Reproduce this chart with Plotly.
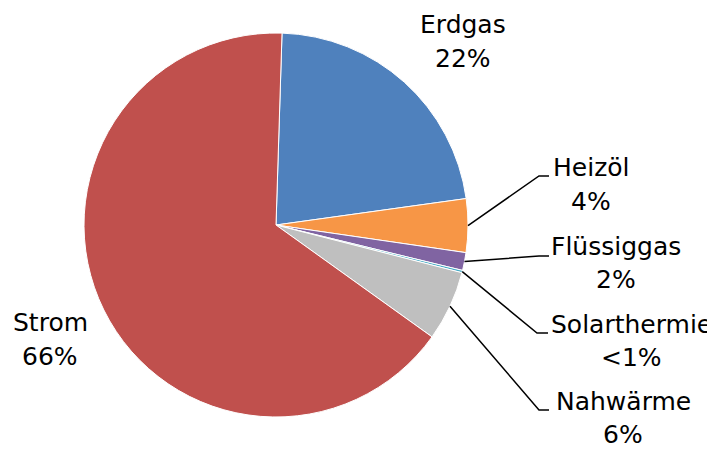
import plotly.graph_objects as go
import math

# ---- data ----
categories = ["Erdgas", "Heizöl", "Flüssiggas", "Solarthermie", "Nahwärme", "Strom"]
values = [22.3, 4.5, 1.5, 0.2, 5.9, 65.6]
pct_labels = ["22%", "4%", "2%", "<1%", "6%", "66%"]
colors = ["#4F81BD", "#F79646", "#8064A2", "#4BACC6", "#BFBFBF", "#C0504D"]

# ---- layout constants ----
OFF = 8                      # page body margin of the html page
W, H = 715 - OFF, 449 - OFF  # figure size
CX, CY, R = 276 - OFF, 225 - OFF, 192
ROTATION = 1.8
FONT = "DejaVu Sans"
FS = 25

# label placement (center x, baseline of name line, baseline of pct line) in page pixels
label_pos = {
    "Erdgas": (463, 33, 67),
    "Heizöl": (591, 176, 210),
    "Flüssiggas": (616, 255, 288),
    "Solarthermie": (631, 333, 366),
    "Nahwärme": (623, 410, 443),
    "Strom": (50, 331, 365),
}
# leader lines: elbow point and end point (page pixels)
leaders = {
    "Heizöl": ((539, 176), (549, 176)),
    "Flüssiggas": ((539, 256), (549, 256)),
    "Solarthermie": ((537, 333), (548, 333)),
    "Nahwärme": ((539, 410), (549, 410)),
}

fig = go.Figure()
fig.add_trace(go.Pie(
    labels=categories, values=values, sort=False, direction="clockwise",
    rotation=ROTATION, textinfo="none", hoverinfo="label+percent",
    marker=dict(colors=colors, line=dict(color="white", width=1)),
    domain=dict(x=[(CX - R) / W, (CX + R) / W], y=[1 - (CY + R) / H, 1 - (CY - R) / H]),
    showlegend=False,
))

# invisible pixel axes for annotations/shapes
fig.update_xaxes(range=[0, W], visible=False, fixedrange=True)
fig.update_yaxes(range=[H, 0], visible=False, fixedrange=True)

total = sum(values)
cum = 0.0
for cat, v, pl in zip(categories, values, pct_labels):
    mid = ROTATION + 360.0 * (cum + v / 2) / total
    cum += v
    cx, base1, base2 = label_pos[cat]
    cx -= OFF
    base1 -= OFF
    base2 -= OFF
    for txt, base in ((cat, base1), (pl, base2)):
        fig.add_annotation(x=cx, y=base - 9, text=txt, showarrow=False, xref="x", yref="y",
                           xanchor="center", yanchor="middle",
                           font=dict(family=FONT, size=FS, color="black"))
    if cat in leaders:
        a = math.radians(mid)
        sx = CX + R * math.sin(a)
        sy = CY - R * math.cos(a)
        (ex, ey), (fx, fy) = leaders[cat]
        fig.add_shape(type="path", xref="x", yref="y",
                      path=f"M {sx:.2f} {sy:.2f} L {ex - OFF} {ey - OFF} L {fx - OFF} {fy - OFF}",
                      line=dict(color="black", width=1.5))

fig.update_layout(
    width=W, height=H, margin=dict(l=0, r=0, t=0, b=0),
    paper_bgcolor="white", plot_bgcolor="white",
)
fig.write_html("out.html")
